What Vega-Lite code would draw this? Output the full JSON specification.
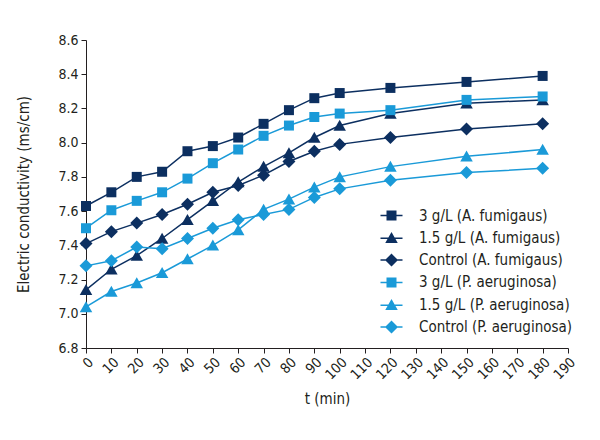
{
  "$schema": "https://vega.github.io/schema/vega-lite/v6.json",
  "width": 482,
  "height": 308,
  "autosize": "none",
  "padding": {"left": 86, "top": 40, "right": 32, "bottom": 92},
  "background": "white",
  "config": {
    "view": {"stroke": null},
    "font": "DejaVu Sans Condensed, Roboto, sans-serif",
    "axis": {
      "grid": false,
      "domainColor": "#231f20",
      "tickColor": "#231f20",
      "labelColor": "#231f20",
      "titleColor": "#231f20",
      "labelFont": "DejaVu Sans Condensed, Roboto, sans-serif",
      "titleFont": "DejaVu Sans Condensed, Roboto, sans-serif",
      "labelFontSize": 14,
      "titleFontSize": 15,
      "titleFontWeight": "normal",
      "tickSize": 5,
      "domainWidth": 1,
      "tickWidth": 1,
      "labelOverlap": false
    }
  },
  "data": {
    "values": [
      {"t": 0, "series": "3 g/L (A. fumigaus)", "v": 7.63},
      {"t": 10, "series": "3 g/L (A. fumigaus)", "v": 7.71},
      {"t": 20, "series": "3 g/L (A. fumigaus)", "v": 7.80},
      {"t": 30, "series": "3 g/L (A. fumigaus)", "v": 7.83},
      {"t": 40, "series": "3 g/L (A. fumigaus)", "v": 7.95},
      {"t": 50, "series": "3 g/L (A. fumigaus)", "v": 7.98},
      {"t": 60, "series": "3 g/L (A. fumigaus)", "v": 8.03},
      {"t": 70, "series": "3 g/L (A. fumigaus)", "v": 8.11},
      {"t": 80, "series": "3 g/L (A. fumigaus)", "v": 8.19},
      {"t": 90, "series": "3 g/L (A. fumigaus)", "v": 8.26},
      {"t": 100, "series": "3 g/L (A. fumigaus)", "v": 8.29},
      {"t": 120, "series": "3 g/L (A. fumigaus)", "v": 8.32},
      {"t": 150, "series": "3 g/L (A. fumigaus)", "v": 8.355},
      {"t": 180, "series": "3 g/L (A. fumigaus)", "v": 8.39},
      {"t": 0, "series": "1.5 g/L (A. fumigaus)", "v": 7.14},
      {"t": 10, "series": "1.5 g/L (A. fumigaus)", "v": 7.26},
      {"t": 20, "series": "1.5 g/L (A. fumigaus)", "v": 7.34},
      {"t": 30, "series": "1.5 g/L (A. fumigaus)", "v": 7.44},
      {"t": 40, "series": "1.5 g/L (A. fumigaus)", "v": 7.55},
      {"t": 50, "series": "1.5 g/L (A. fumigaus)", "v": 7.66},
      {"t": 60, "series": "1.5 g/L (A. fumigaus)", "v": 7.77},
      {"t": 70, "series": "1.5 g/L (A. fumigaus)", "v": 7.86},
      {"t": 80, "series": "1.5 g/L (A. fumigaus)", "v": 7.94},
      {"t": 90, "series": "1.5 g/L (A. fumigaus)", "v": 8.03},
      {"t": 100, "series": "1.5 g/L (A. fumigaus)", "v": 8.10},
      {"t": 120, "series": "1.5 g/L (A. fumigaus)", "v": 8.17},
      {"t": 150, "series": "1.5 g/L (A. fumigaus)", "v": 8.23},
      {"t": 180, "series": "1.5 g/L (A. fumigaus)", "v": 8.25},
      {"t": 0, "series": "Control (A. fumigaus)", "v": 7.41},
      {"t": 10, "series": "Control (A. fumigaus)", "v": 7.48},
      {"t": 20, "series": "Control (A. fumigaus)", "v": 7.53},
      {"t": 30, "series": "Control (A. fumigaus)", "v": 7.58},
      {"t": 40, "series": "Control (A. fumigaus)", "v": 7.64},
      {"t": 50, "series": "Control (A. fumigaus)", "v": 7.71},
      {"t": 60, "series": "Control (A. fumigaus)", "v": 7.75},
      {"t": 70, "series": "Control (A. fumigaus)", "v": 7.81},
      {"t": 80, "series": "Control (A. fumigaus)", "v": 7.89},
      {"t": 90, "series": "Control (A. fumigaus)", "v": 7.95},
      {"t": 100, "series": "Control (A. fumigaus)", "v": 7.99},
      {"t": 120, "series": "Control (A. fumigaus)", "v": 8.03},
      {"t": 150, "series": "Control (A. fumigaus)", "v": 8.08},
      {"t": 180, "series": "Control (A. fumigaus)", "v": 8.11},
      {"t": 0, "series": "3 g/L (P. aeruginosa)", "v": 7.50},
      {"t": 10, "series": "3 g/L (P. aeruginosa)", "v": 7.605},
      {"t": 20, "series": "3 g/L (P. aeruginosa)", "v": 7.66},
      {"t": 30, "series": "3 g/L (P. aeruginosa)", "v": 7.71},
      {"t": 40, "series": "3 g/L (P. aeruginosa)", "v": 7.79},
      {"t": 50, "series": "3 g/L (P. aeruginosa)", "v": 7.88},
      {"t": 60, "series": "3 g/L (P. aeruginosa)", "v": 7.96},
      {"t": 70, "series": "3 g/L (P. aeruginosa)", "v": 8.04},
      {"t": 80, "series": "3 g/L (P. aeruginosa)", "v": 8.10},
      {"t": 90, "series": "3 g/L (P. aeruginosa)", "v": 8.15},
      {"t": 100, "series": "3 g/L (P. aeruginosa)", "v": 8.17},
      {"t": 120, "series": "3 g/L (P. aeruginosa)", "v": 8.19},
      {"t": 150, "series": "3 g/L (P. aeruginosa)", "v": 8.25},
      {"t": 180, "series": "3 g/L (P. aeruginosa)", "v": 8.27},
      {"t": 0, "series": "1.5 g/L (P. aeruginosa)", "v": 7.04},
      {"t": 10, "series": "1.5 g/L (P. aeruginosa)", "v": 7.13},
      {"t": 20, "series": "1.5 g/L (P. aeruginosa)", "v": 7.18},
      {"t": 30, "series": "1.5 g/L (P. aeruginosa)", "v": 7.24},
      {"t": 40, "series": "1.5 g/L (P. aeruginosa)", "v": 7.32},
      {"t": 50, "series": "1.5 g/L (P. aeruginosa)", "v": 7.40},
      {"t": 60, "series": "1.5 g/L (P. aeruginosa)", "v": 7.49},
      {"t": 70, "series": "1.5 g/L (P. aeruginosa)", "v": 7.61},
      {"t": 80, "series": "1.5 g/L (P. aeruginosa)", "v": 7.67},
      {"t": 90, "series": "1.5 g/L (P. aeruginosa)", "v": 7.74},
      {"t": 100, "series": "1.5 g/L (P. aeruginosa)", "v": 7.80},
      {"t": 120, "series": "1.5 g/L (P. aeruginosa)", "v": 7.86},
      {"t": 150, "series": "1.5 g/L (P. aeruginosa)", "v": 7.92},
      {"t": 180, "series": "1.5 g/L (P. aeruginosa)", "v": 7.96},
      {"t": 0, "series": "Control (P. aeruginosa)", "v": 7.28},
      {"t": 10, "series": "Control (P. aeruginosa)", "v": 7.31},
      {"t": 20, "series": "Control (P. aeruginosa)", "v": 7.39},
      {"t": 30, "series": "Control (P. aeruginosa)", "v": 7.38},
      {"t": 40, "series": "Control (P. aeruginosa)", "v": 7.44},
      {"t": 50, "series": "Control (P. aeruginosa)", "v": 7.50},
      {"t": 60, "series": "Control (P. aeruginosa)", "v": 7.55},
      {"t": 70, "series": "Control (P. aeruginosa)", "v": 7.58},
      {"t": 80, "series": "Control (P. aeruginosa)", "v": 7.61},
      {"t": 90, "series": "Control (P. aeruginosa)", "v": 7.68},
      {"t": 100, "series": "Control (P. aeruginosa)", "v": 7.73},
      {"t": 120, "series": "Control (P. aeruginosa)", "v": 7.78},
      {"t": 150, "series": "Control (P. aeruginosa)", "v": 7.825},
      {"t": 180, "series": "Control (P. aeruginosa)", "v": 7.85}
    ]
  },
  "encoding": {
    "x": {
      "field": "t", "type": "quantitative",
      "scale": {"domain": [0, 190], "nice": false},
      "axis": {
        "title": "t (min)",
        "values": [0,10,20,30,40,50,60,70,80,90,100,110,120,130,140,150,160,170,180,190],
        "labelAngle": -45,
        "labelPadding": 2,
        "titlePadding": 10
      }
    },
    "y": {
      "field": "v", "type": "quantitative",
      "scale": {"domain": [6.8, 8.6], "nice": false, "zero": false},
      "axis": {
        "title": "Electric conductivity (ms/cm)",
        "values": [6.8,7.0,7.2,7.4,7.6,7.8,8.0,8.2,8.4,8.6],
        "format": ".1f",
        "labelPadding": 3,
        "titlePadding": 26
      }
    }
  },
  "layer": [
    {
      "mark": {"type": "line", "strokeWidth": 1.5},
      "encoding": {
        "color": {
          "field": "series", "type": "nominal", "legend": null,
          "scale": {
            "domain": ["3 g/L (A. fumigaus)", "1.5 g/L (A. fumigaus)", "Control (A. fumigaus)", "3 g/L (P. aeruginosa)", "1.5 g/L (P. aeruginosa)", "Control (P. aeruginosa)"],
            "range": ["#0c2f60", "#0c2f60", "#0c2f60", "#1a9ad8", "#1a9ad8", "#1a9ad8"]
          }
        }
      }
    },
    {
      "mark": {"type": "point", "filled": true, "opacity": 1, "size": 100},
      "encoding": {
        "color": {
          "field": "series", "type": "nominal", "legend": null,
          "scale": {
            "domain": ["3 g/L (A. fumigaus)", "1.5 g/L (A. fumigaus)", "Control (A. fumigaus)", "3 g/L (P. aeruginosa)", "1.5 g/L (P. aeruginosa)", "Control (P. aeruginosa)"],
            "range": ["#0c2f60", "#0c2f60", "#0c2f60", "#1a9ad8", "#1a9ad8", "#1a9ad8"]
          }
        },
        "shape": {
          "field": "series", "type": "nominal", "legend": null,
          "scale": {
            "domain": ["3 g/L (A. fumigaus)", "1.5 g/L (A. fumigaus)", "Control (A. fumigaus)", "3 g/L (P. aeruginosa)", "1.5 g/L (P. aeruginosa)", "Control (P. aeruginosa)"],
            "range": ["M-1,-1H1V1H-1Z", "M0,-1.15L1.25,1.05L-1.25,1.05Z", "M0,-1.3L1.3,0L0,1.3L-1.3,0Z", "M-1,-1H1V1H-1Z", "M0,-1.15L1.25,1.05L-1.25,1.05Z", "M0,-1.3L1.3,0L0,1.3L-1.3,0Z"]
          }
        }
      }
    },
    {
      "mark": {"type": "point", "filled": true, "opacity": 0, "size": 100},
      "encoding": {
        "color": {
          "field": "series", "type": "nominal",
          "scale": {
            "domain": ["3 g/L (A. fumigaus)", "1.5 g/L (A. fumigaus)", "Control (A. fumigaus)", "3 g/L (P. aeruginosa)", "1.5 g/L (P. aeruginosa)", "Control (P. aeruginosa)"],
            "range": ["#0c2f60", "#0c2f60", "#0c2f60", "#1a9ad8", "#1a9ad8", "#1a9ad8"]
          },
          "legend": {
            "orient": "none", "legendX": 298, "legendY": 168, "title": null,
            "labelFont": "DejaVu Sans Condensed, Roboto, sans-serif", "labelFontSize": 15, "labelColor": "#231f20",
            "labelOffset": 20, "rowPadding": 6.3, "symbolSize": 100, "symbolStrokeWidth": 0,
            "symbolOpacity": 1, "padding": 0
          }
        },
        "shape": {
          "field": "series", "type": "nominal",
          "scale": {
            "domain": ["3 g/L (A. fumigaus)", "1.5 g/L (A. fumigaus)", "Control (A. fumigaus)", "3 g/L (P. aeruginosa)", "1.5 g/L (P. aeruginosa)", "Control (P. aeruginosa)"],
            "range": ["M-2.2,-0.15H2.2V0.15H-2.2ZM-1,-1H1V1H-1Z", "M-2.2,-0.05H2.2V0.25H-2.2ZM0,-1.15L1.25,1.05L-1.25,1.05Z", "M-2.2,-0.15H2.2V0.15H-2.2ZM0,-1.3L1.3,0L0,1.3L-1.3,0Z", "M-2.2,-0.15H2.2V0.15H-2.2ZM-1,-1H1V1H-1Z", "M-2.2,-0.05H2.2V0.25H-2.2ZM0,-1.15L1.25,1.05L-1.25,1.05Z", "M-2.2,-0.15H2.2V0.15H-2.2ZM0,-1.3L1.3,0L0,1.3L-1.3,0Z"]
          },
          "legend": {
            "orient": "none", "legendX": 298, "legendY": 168, "title": null,
            "labelFont": "DejaVu Sans Condensed, Roboto, sans-serif", "labelFontSize": 15, "labelColor": "#231f20",
            "labelOffset": 20, "rowPadding": 6.3, "symbolSize": 100, "symbolStrokeWidth": 0,
            "symbolOpacity": 1, "padding": 0
          }
        }
      }
    }
  ],
  "resolve": {"scale": {"color": "independent", "shape": "independent"}}
}
